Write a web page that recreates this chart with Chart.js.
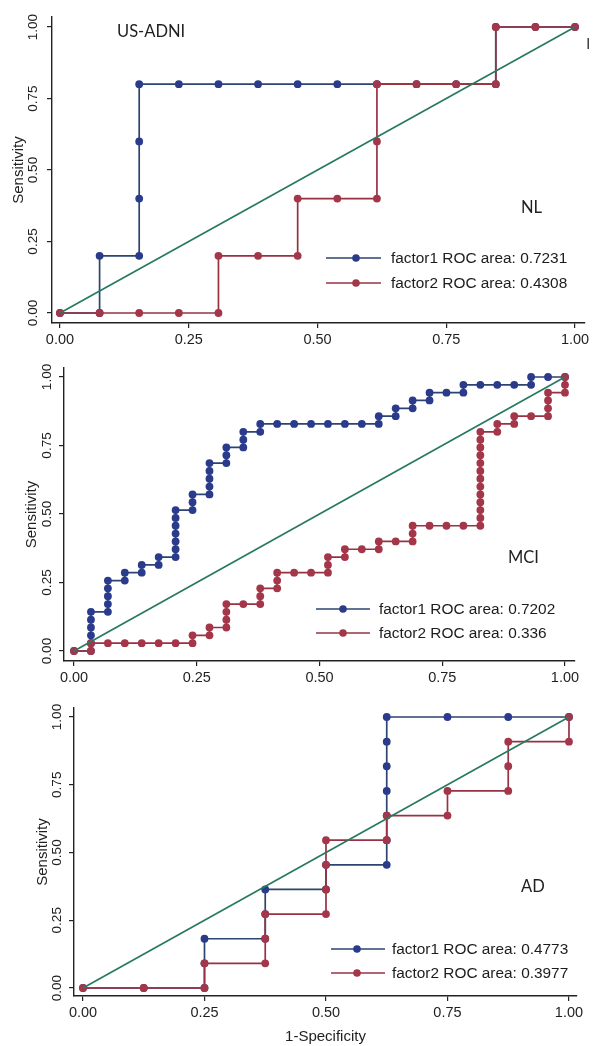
<!DOCTYPE html>
<html>
<head>
<meta charset="utf-8">
<script src="https://cdn.jsdelivr.net/npm/chart.js@4.4.1/dist/chart.umd.min.js"></script>
<style>
  html, body { margin: 0; padding: 0; background: #ffffff; }
  #wrap { position: relative; width: 593px; height: 1046px; overflow: hidden; background: #ffffff; }
  #wrap canvas { position: absolute; left: 0; top: 0; }
</style>
</head>
<body>
<div id="wrap">
  <canvas id="panelNL" width="593" height="1046"></canvas>
  <canvas id="panelMCI" width="593" height="1046"></canvas>
  <canvas id="panelAD" width="593" height="1046"></canvas>
</div>
<script>
// ---- axis ticks ----
const tickValues = [0, 0.25, 0.5, 0.75, 1];

// ---- chance line ----
const diagonalX = [0, 1];
const diagonalY = [0, 1];

// ---- NL group (1-specificity, sensitivity) ----
const nlFactor1Fpr = [0, 0.0769, 0.0769, 0.1538, 0.1538, 0.1538, 0.1538, 0.2308, 0.3077, 0.3846, 0.4615, 0.5385, 0.6154, 0.6923, 0.7692, 0.8462, 0.8462, 0.9231, 1];
const nlFactor1Tpr = [0, 0, 0.2, 0.2, 0.4, 0.6, 0.8, 0.8, 0.8, 0.8, 0.8, 0.8, 0.8, 0.8, 0.8, 0.8, 1, 1, 1];
const nlFactor2Fpr = [0, 0.0769, 0.1538, 0.2308, 0.3077, 0.3077, 0.3846, 0.4615, 0.4615, 0.5385, 0.6154, 0.6154, 0.6154, 0.6923, 0.7692, 0.8462, 0.8462, 0.9231, 1];
const nlFactor2Tpr = [0, 0, 0, 0, 0, 0.2, 0.2, 0.2, 0.4, 0.4, 0.4, 0.6, 0.8, 0.8, 0.8, 0.8, 1, 1, 1];
const nlLegend = ['factor1 ROC area: 0.7231', 'factor2 ROC area: 0.4308'];

// ---- MCI group ----
const mciFactor1Fpr = [0,
  0.0345, 0.0345, 0.0345, 0.0345, 0.0345, 0.0345,
  0.0690, 0.0690, 0.0690, 0.0690, 0.0690,
  0.1034, 0.1034,
  0.1379, 0.1379,
  0.1724, 0.1724,
  0.2069, 0.2069, 0.2069, 0.2069, 0.2069, 0.2069, 0.2069,
  0.2414, 0.2414, 0.2414,
  0.2759, 0.2759, 0.2759, 0.2759, 0.2759,
  0.3103, 0.3103, 0.3103,
  0.3448, 0.3448, 0.3448,
  0.3793, 0.3793,
  0.4138, 0.4483, 0.4828, 0.5172, 0.5517, 0.5862,
  0.6207, 0.6207,
  0.6552, 0.6552,
  0.6897, 0.6897,
  0.7241, 0.7241,
  0.7586,
  0.7931, 0.7931,
  0.8276, 0.8621, 0.8966,
  0.9310, 0.9310,
  0.9655,
  1];
const mciFactor1Tpr = [0,
  0, 0.0286, 0.0571, 0.0857, 0.1143, 0.1429,
  0.1429, 0.1714, 0.2000, 0.2286, 0.2571,
  0.2571, 0.2857,
  0.2857, 0.3143,
  0.3143, 0.3429,
  0.3429, 0.3714, 0.4000, 0.4286, 0.4571, 0.4857, 0.5143,
  0.5143, 0.5429, 0.5714,
  0.5714, 0.6000, 0.6286, 0.6571, 0.6857,
  0.6857, 0.7143, 0.7429,
  0.7429, 0.7714, 0.8000,
  0.8000, 0.8286,
  0.8286, 0.8286, 0.8286, 0.8286, 0.8286, 0.8286,
  0.8286, 0.8571,
  0.8571, 0.8857,
  0.8857, 0.9143,
  0.9143, 0.9429,
  0.9429,
  0.9429, 0.9714,
  0.9714, 0.9714, 0.9714,
  0.9714, 1,
  1,
  1];
const mciFactor2Fpr = [0,
  0.0345, 0.0345,
  0.0690, 0.1034, 0.1379, 0.1724, 0.2069,
  0.2414, 0.2414,
  0.2759, 0.2759,
  0.3103, 0.3103, 0.3103, 0.3103,
  0.3448,
  0.3793, 0.3793, 0.3793,
  0.4138, 0.4138, 0.4138,
  0.4483, 0.4828,
  0.5172, 0.5172, 0.5172,
  0.5517, 0.5517,
  0.5862,
  0.6207, 0.6207,
  0.6552,
  0.6897, 0.6897, 0.6897,
  0.7241, 0.7586, 0.7931,
  0.8276, 0.8276, 0.8276, 0.8276, 0.8276, 0.8276, 0.8276, 0.8276, 0.8276, 0.8276, 0.8276, 0.8276, 0.8276,
  0.8621, 0.8621,
  0.8966, 0.8966,
  0.9310,
  0.9655, 0.9655, 0.9655, 0.9655,
  1, 1, 1];
const mciFactor2Tpr = [0,
  0, 0.0286,
  0.0286, 0.0286, 0.0286, 0.0286, 0.0286,
  0.0286, 0.0571,
  0.0571, 0.0857,
  0.0857, 0.1143, 0.1429, 0.1714,
  0.1714,
  0.1714, 0.2000, 0.2286,
  0.2286, 0.2571, 0.2857,
  0.2857, 0.2857,
  0.2857, 0.3143, 0.3429,
  0.3429, 0.3714,
  0.3714,
  0.3714, 0.4000,
  0.4000,
  0.4000, 0.4286, 0.4571,
  0.4571, 0.4571, 0.4571,
  0.4571, 0.4857, 0.5143, 0.5429, 0.5714, 0.6000, 0.6286, 0.6571, 0.6857, 0.7143, 0.7429, 0.7714, 0.8000,
  0.8000, 0.8286,
  0.8286, 0.8571,
  0.8571,
  0.8571, 0.8857, 0.9143, 0.9429,
  0.9429, 0.9714, 1];
const mciLegend = ['factor1 ROC area: 0.7202', 'factor2 ROC area: 0.336'];

// ---- AD group ----
const adFactor1Fpr = [0, 0.125, 0.25, 0.25, 0.25, 0.375, 0.375, 0.375, 0.5, 0.5, 0.625, 0.625, 0.625, 0.625, 0.625, 0.625, 0.625, 0.75, 0.875, 1];
const adFactor1Tpr = [0, 0, 0, 0.0909, 0.1818, 0.1818, 0.2727, 0.3636, 0.3636, 0.4545, 0.4545, 0.5455, 0.6364, 0.7273, 0.8182, 0.9091, 1, 1, 1, 1];
const adFactor2Fpr = [0, 0.125, 0.25, 0.25, 0.375, 0.375, 0.375, 0.5, 0.5, 0.5, 0.5, 0.625, 0.625, 0.75, 0.75, 0.875, 0.875, 0.875, 1, 1];
const adFactor2Tpr = [0, 0, 0, 0.0909, 0.0909, 0.1818, 0.2727, 0.2727, 0.3636, 0.4545, 0.5455, 0.5455, 0.6364, 0.6364, 0.7273, 0.7273, 0.8182, 0.9091, 0.9091, 1];
const adLegend = ['factor1 ROC area: 0.4773', 'factor2 ROC area: 0.3977'];

// ---- styling ----
const BLUE_LINE = '#2c4470';
const BLUE_DOT = '#2a3b8c';
const RED_LINE = '#983243';
const RED_DOT = '#a4364a';
const GREEN = '#277a5f';
const INK = '#1f1f1f';
const SANS = "'Liberation Sans', Arial, Helvetica, sans-serif";
const HUMANIST = "Lato, 'Open Sans', sans-serif";

Chart.defaults.font.family = SANS;
Chart.defaults.color = INK;
Chart.defaults.animation = false;

function toPoints(xs, ys) {
  return xs.map((x, i) => ({ x: x, y: ys[i] }));
}

// Panel captions and the line-with-marker key drawn inside each plot
function decorPlugin(spec) {
  return {
    id: 'decor_' + spec.id,
    afterDraw(chart) {
      const ctx = chart.ctx;
      ctx.save();
      ctx.textAlign = 'left';
      ctx.textBaseline = 'middle';
      spec.notes.forEach(n => {
        ctx.font = n.font;
        ctx.fillStyle = n.color || INK;
        ctx.fillText(n.text, n.x, n.y);
      });
      const lg = spec.legendBox;
      spec.legendRows.forEach((row, i) => {
        const ds = chart.data.datasets.find(d => d.label === row.series);
        const y = lg.rows[i];
        ctx.strokeStyle = ds.borderColor;
        ctx.lineWidth = 1.3;
        ctx.beginPath();
        ctx.moveTo(lg.x1, y);
        ctx.lineTo(lg.x2, y);
        ctx.stroke();
        ctx.fillStyle = ds.pointBackgroundColor;
        ctx.beginPath();
        ctx.arc(lg.mx, y, 3.8, 0, Math.PI * 2);
        ctx.fill();
        ctx.fillStyle = '#1c1c1c';
        ctx.font = '15.4px ' + SANS;
        ctx.fillText(row.text, lg.tx, y + 0.5);
      });
      ctx.restore();
    }
  };
}

function makePanel(spec) {
  const W = 593, H = 1046;
  const datasets = [
    {
      label: 'reference',
      data: toPoints(diagonalX, diagonalY),
      showLine: true,
      borderColor: GREEN,
      borderWidth: 1.7,
      pointRadius: 0
    },
    {
      label: 'factor2',
      data: toPoints(spec.f2x, spec.f2y),
      showLine: true,
      borderColor: RED_LINE,
      borderWidth: 1.7,
      pointRadius: 3.9,
      pointBackgroundColor: RED_DOT,
      pointBorderColor: RED_DOT,
      pointBorderWidth: 0
    },
    {
      label: 'factor1',
      data: toPoints(spec.f1x, spec.f1y),
      showLine: true,
      borderColor: BLUE_LINE,
      borderWidth: 1.7,
      pointRadius: 3.9,
      pointBackgroundColor: BLUE_DOT,
      pointBorderColor: BLUE_DOT,
      pointBorderWidth: 0
    }
  ];
  const fixTicks = scale => { scale.ticks = tickValues.map(v => ({ value: v })); };
  const axisColor = '#222222';
  return new Chart(document.getElementById(spec.id), {
    type: 'scatter',
    data: { datasets: datasets },
    options: {
      responsive: false,
      devicePixelRatio: 1,
      events: [],
      layout: { padding: { left: 0, top: spec.box.top, right: W - spec.box.right, bottom: 0 } },
      plugins: { legend: { display: false }, tooltip: { enabled: false } },
      scales: {
        x: {
          type: 'linear',
          min: spec.xRange[0],
          max: spec.xRange[1],
          afterBuildTicks: fixTicks,
          afterFit: s => { s.height = H - spec.box.bottom; },
          ticks: {
            autoSkip: false, minRotation: 0, maxRotation: 0, padding: 3.3,
            font: { size: 14.5 }, color: INK,
            callback: v => Number(v).toFixed(2)
          },
          grid: { drawOnChartArea: false, drawTicks: true, tickLength: 5, color: axisColor, lineWidth: 1.2 },
          border: { display: true, color: axisColor, width: 1.4 },
          title: {
            display: !!spec.xTitle, text: '1-Specificity',
            font: { size: 15 }, color: INK, padding: { top: 0, bottom: 0 }
          }
        },
        y: {
          type: 'linear',
          min: spec.yRange[0],
          max: spec.yRange[1],
          afterBuildTicks: fixTicks,
          afterFit: s => { s.width = spec.box.left; },
          ticks: {
            autoSkip: false, minRotation: 90, maxRotation: 90, crossAlign: 'center',
            padding: spec.yTickPad, font: { size: 13.5 }, color: INK,
            callback: v => Number(v).toFixed(2)
          },
          grid: { drawOnChartArea: false, drawTicks: true, tickLength: 5, color: axisColor, lineWidth: 1.2 },
          border: { display: true, color: axisColor, width: 1.4 },
          title: {
            display: true, text: 'Sensitivity',
            font: { size: 15 }, color: INK, padding: { top: spec.yTitlePad, bottom: 0 }
          }
        }
      }
    },
    plugins: [decorPlugin(spec)]
  });
}

makePanel({
  id: 'panelNL',
  f1x: nlFactor1Fpr, f1y: nlFactor1Tpr, f2x: nlFactor2Fpr, f2y: nlFactor2Tpr,
  box: { left: 52, top: 17, right: 585, bottom: 323 },
  xRange: [-0.0155, 1.0194], yRange: [-0.035, 1.035],
  yTickPad: 0.9, yTitlePad: 10, xTitle: false,
  notes: [
    { text: 'US-ADNI', x: 117, y: 32, font: '16.5px ' + HUMANIST },
    { text: 'NL', x: 521, y: 208, font: '16.5px ' + HUMANIST },
    { text: 'I', x: 586, y: 44, font: '16px ' + HUMANIST, color: '#444' }
  ],
  legendBox: { x1: 326, x2: 381, mx: 356, tx: 391, rows: [258, 283] },
  legendRows: [{ series: 'factor1', text: nlLegend[0] }, { series: 'factor2', text: nlLegend[1] }]
});

makePanel({
  id: 'panelMCI',
  f1x: mciFactor1Fpr, f1y: mciFactor1Tpr, f2x: mciFactor2Fpr, f2y: mciFactor2Tpr,
  box: { left: 64, top: 368, right: 575, bottom: 661 },
  xRange: [-0.0204, 1.0204], yRange: [-0.0365, 1.0328],
  yTickPad: -1.1, yTitlePad: 23, xTitle: false,
  notes: [
    { text: 'MCI', x: 508, y: 558, font: '16.5px ' + HUMANIST }
  ],
  legendBox: { x1: 316, x2: 370, mx: 343, tx: 379, rows: [609, 633] },
  legendRows: [{ series: 'factor1', text: mciLegend[0] }, { series: 'factor2', text: mciLegend[1] }]
});

makePanel({
  id: 'panelAD',
  f1x: adFactor1Fpr, f1y: adFactor1Tpr, f2x: adFactor2Fpr, f2y: adFactor2Tpr,
  box: { left: 74, top: 708, right: 577, bottom: 996 },
  xRange: [-0.0185, 1.0165], yRange: [-0.0295, 1.0332],
  yTickPad: -1.1, yTitlePad: 34, xTitle: true,
  notes: [
    { text: 'AD', x: 521, y: 887, font: '16.5px ' + HUMANIST }
  ],
  legendBox: { x1: 331, x2: 385, mx: 357, tx: 392, rows: [949, 973] },
  legendRows: [{ series: 'factor1', text: adLegend[0] }, { series: 'factor2', text: adLegend[1] }]
});
</script>
</body>
</html>
